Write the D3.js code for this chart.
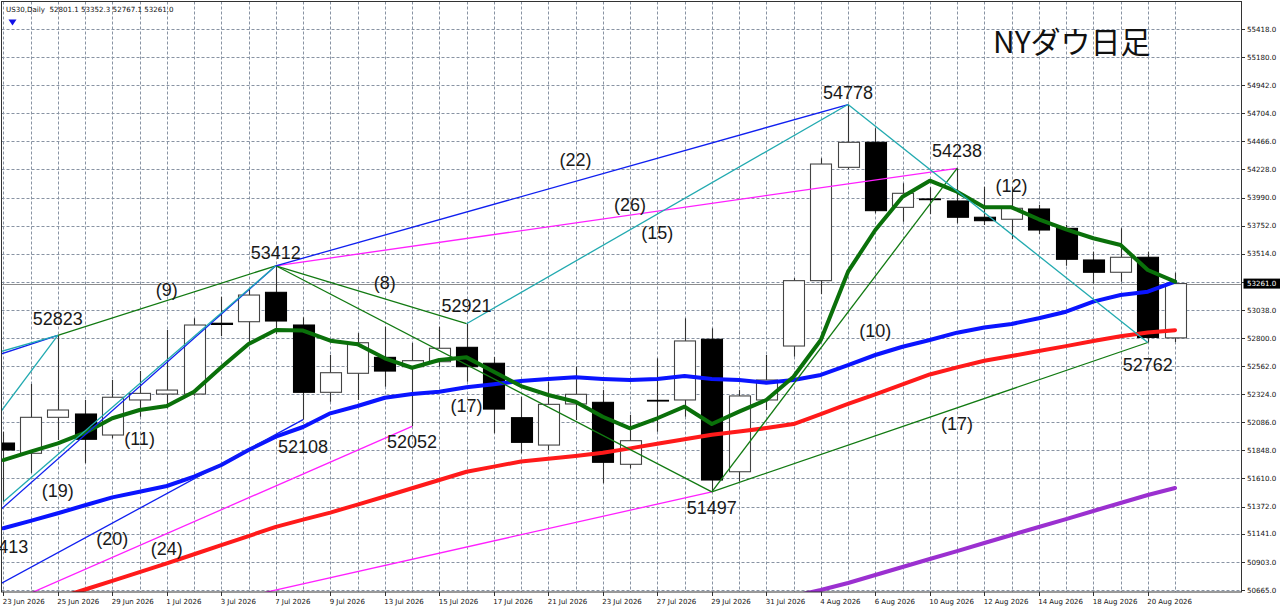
<!DOCTYPE html>
<html><head><meta charset="utf-8">
<script src="https://cdn.jsdelivr.net/npm/d3@7"></script>
<style>
html,body{margin:0;padding:0;background:#fff;overflow:hidden}
svg{display:block}
</style>
</head><body>
<svg id="chart" width="1280" height="611"></svg>
<script>
// ---------------- DATA ----------------
const dates = ["23 Jun 2026","24 Jun 2026","25 Jun 2026","26 Jun 2026","29 Jun 2026","30 Jun 2026",
"1 Jul 2026","2 Jul 2026","3 Jul 2026","6 Jul 2026","7 Jul 2026","8 Jul 2026","9 Jul 2026","10 Jul 2026",
"13 Jul 2026","14 Jul 2026","15 Jul 2026","16 Jul 2026","17 Jul 2026","20 Jul 2026","21 Jul 2026","22 Jul 2026",
"23 Jul 2026","24 Jul 2026","27 Jul 2026","28 Jul 2026","29 Jul 2026","30 Jul 2026","31 Jul 2026",
"3 Aug 2026","4 Aug 2026","5 Aug 2026","6 Aug 2026","7 Aug 2026","10 Aug 2026","11 Aug 2026","12 Aug 2026",
"13 Aug 2026","14 Aug 2026","17 Aug 2026","18 Aug 2026","19 Aug 2026","20 Aug 2026","21 Aug 2026"];

const opens  = [51910,51823,52128,52156,51978,52275,52325,52325,52925,52938,53187,52910,52340,52501,52636,52557,52599,52721,52586,52125,51893,52241,52255,51730,52272,52275,52789,51667,52275,52732,53286,54246,54458,53907,53978,53961,53823,53806,53893,53729,53461,53357,53484,52801.1];
const highs  = [52006,52410,52823,52275,52444,52520,52868,52967,53150,53224,53412,52975,52656,52842,52896,52758,52896,52921,52639,52303,52430,52557,52359,52148,52628,52967,52882,52359,52656,53308,54322,54778,54577,54111,54077,54238,54082,54082,53927,53757,53531,53729,53531,53352.3];
const lows   = [51413,51656,51936,51738,51950,52133,52204,52310,52817,52758,52834,52108,52260,52275,52387,52052,52557,52430,51993,51823,51851,52105,51569,51696,52006,52133,51497,51583,52190,52642,53173,54230,53857,53785,53851,53772,53757,53639,53681,53413,53263,53277,52762,52767.1];
const closes = [51851,52128,52190,51942,52298,52331,52359,52910,52915,53164,52944,52340,52506,52760,52520,52608,52713,52557,52198,51916,52238,52323,51747,51930,52266,52775,51597,52309,52444,53286,54274,54458,53879,54026,53972,53823,53794,53899,53715,53467,53357,53484,52805,53261.0];

const maGreen = [51766,51837,51908,51998,52120,52190,52224,52345,52552,52749,52868,52863,52777,52747,52628,52548,52614,52636,52514,52393,52317,52260,52133,52035,52120,52218,52071,52176,52275,52472,52783,53362,53715,53997,54133,54040,53907,53907,53806,53721,53645,53588,53376,53277];
const maBlue  = [51188,51251,51315,51383,51450,51498,51546,51625,51724,51851,51964,52046,52162,52224,52294,52325,52345,52382,52408,52436,52453,52467,52453,52444,52453,52478,52453,52444,52421,52444,52487,52571,52656,52726,52783,52845,52889,52919,52967,53023,53108,53164,53192,53277];
const maRed   = [50445,50521,50597,50669,50743,50817,50891,50968,51045,51122,51200,51261,51321,51389,51457,51527,51597,51667,51710,51754,51777,51801,51827,51865,51904,51943,51981,52007,52037,52071,52156,52241,52323,52407,52491,52551,52607,52647,52690,52731,52774,52815,52847,52866];
const maPurple = [null,null,null,null,null,null,null,null,null,null,null,null,null,null,null,null,null,null,null,null,null,null,null,null,null,null,null,null,
  50550,50614,50665,50724,50792,50860,50928,50995,51063,51131,51199,51266,51334,51402,51470,51529];

const priceTicks = [55418,55180,54942,54704,54466,54228,53990,53752,53514,53276,53038,52800,52562,52324,52086,51848,51610,51372,51141,50903,50665];
const lastPrice = 53261.0;
const headerText = "US30,Daily  52801.1 53352.3 52767.1 53261.0";
const titleText = "NYダウ日足";

// trend lines: [bar, price] endpoints (off-chart swing points use bars < 0)
const swingLowOff = [-8, 49729];
const greenLines   = [[[2,52823],[10,53412]], [[10,53412],[17,52921]], [[10,53412],[26,51497]], [[26,51497],[35,54238]], [[26,51497],[42,52762]]];
const blueLines    = [[[10,53412],[31,54778]], [swingLowOff,[10,53412]], [swingLowOff,[11,52108]], [[-1,52595],[2,52823]]];
const cyanLines    = [[[17,52921],[31,54778]], [[31,54778],[42,52762]], [[0,51413],[10,53412]], [swingLowOff,[2,52823]], [[-1,52625],[2,52823]]];
const magentaLines = [[[10,53412],[35,54238]], [swingLowOff,[15,52052]], [swingLowOff,[26,51497]]];

// swing price labels: bar, text, price level of text baseline
const swingLabels = [
  {bar:2, text:"52823", at:52910}, {bar:10, text:"53412", at:53469}, {bar:31, text:"54778", at:54825},
  {bar:35, text:"54238", at:54333}, {bar:17, text:"52921", at:53020}, {bar:11, text:"52108", at:51826},
  {bar:15, text:"52052", at:51868}, {bar:26, text:"51497", at:51309}, {bar:42, text:"52762", at:52520},
  {bar:0, text:"51413", at:50978}
];
// bar-count labels
const countLabels = [
  {bar:6, text:"(9)", at:53156}, {bar:14, text:"(8)", at:53215}, {bar:21, text:"(22)", at:54257},
  {bar:23, text:"(26)", at:53876}, {bar:24, text:"(15)", at:53639}, {bar:32, text:"(10)", at:52808},
  {bar:35, text:"(17)", at:52020}, {bar:17, text:"(17)", at:52173}, {bar:37, text:"(12)", at:54037},
  {bar:5, text:"(11)", at:51893}, {bar:2, text:"(19)", at:51453}, {bar:4, text:"(20)", at:51046},
  {bar:6, text:"(24)", at:50961}
];

// ---------------- DRAW ----------------
const svg = d3.select("#chart");
const P = {l:1.5, r:1241.5, t:1.5, b:592};
const x = d3.scaleLinear().domain([0, 43]).range([3.3, 1175.05]);
const y = d3.scaleLinear().domain([50665, 55418]).range([590, 29]);
const step = x(1) - x(0);
const bodyW = step * 0.76;

svg.append("rect").attr("width",1280).attr("height",611).attr("fill","#fff");
svg.append("defs").append("clipPath").attr("id","clip")
  .append("rect").attr("x",P.l).attr("y",P.t).attr("width",P.r-P.l).attr("height",P.b-P.t);

const plot = svg.append("g").attr("clip-path","url(#clip)");

// grid
const gridColor = "#8893a3";
plot.append("g").selectAll("line").data(priceTicks).join("line")
  .attr("x1",P.l).attr("x2",P.r).attr("y1",d=>Math.round(y(d))+0.5).attr("y2",d=>Math.round(y(d))+0.5)
  .attr("stroke",gridColor).attr("stroke-width",1).attr("stroke-dasharray","3,2");
plot.append("g").selectAll("line").data(d3.range(dates.length)).join("line")
  .attr("x1",d=>Math.round(x(d))+0.5).attr("x2",d=>Math.round(x(d))+0.5).attr("y1",P.t).attr("y2",P.b)
  .attr("stroke",gridColor).attr("stroke-width",1).attr("stroke-dasharray","3,2");

// current price line
plot.append("line").attr("x1",P.l).attr("x2",P.r)
  .attr("y1",Math.round(y(lastPrice))+0.5).attr("y2",Math.round(y(lastPrice))+0.5)
  .attr("stroke","#8c8c8c").attr("stroke-width",1);

// candles
const idx = d3.range(dates.length);
const cg = plot.append("g");
cg.selectAll("line.wick").data(idx).join("line").attr("class","wick")
  .attr("x1",i=>Math.round(x(i))+0.5).attr("x2",i=>Math.round(x(i))+0.5)
  .attr("y1",i=>y(highs[i])).attr("y2",i=>y(lows[i]))
  .attr("stroke","#333").attr("stroke-width",1.1);
cg.selectAll("rect.body").data(idx).join("rect").attr("class","body")
  .attr("x",i=>Math.round(x(i)-bodyW/2)+0.5)
  .attr("width",Math.round(bodyW))
  .attr("y",i=>Math.min(y(opens[i]),y(closes[i])))
  .attr("height",i=>Math.max(0.5,Math.abs(y(opens[i])-y(closes[i]))))
  .attr("fill",i=>closes[i]<opens[i]?"#000":"#fff")
  .attr("stroke",i=>closes[i]<opens[i]?"#000":"#444").attr("stroke-width",1.1);

// moving averages
const maLine = d3.line().defined(d=>d!=null).x((d,i)=>x(i)).y(d=>y(d));
[[maPurple,"#9b30d0"],[maRed,"#ff1a1a"],[maBlue,"#0a14ff"],[maGreen,"#0a700a"]].forEach(([arr,col])=>{
  plot.append("path").datum(arr).attr("d",maLine).attr("fill","none")
    .attr("stroke",col).attr("stroke-width",4).attr("stroke-linejoin","round").attr("stroke-linecap","round");
});

// trend lines
const tl = d3.line().x(d=>x(d[0])).y(d=>y(d[1]));
[[magentaLines,"#ff20ff"],[greenLines,"#127a12"],[blueLines,"#1020f0"],[cyanLines,"#22aab0"]].forEach(([arr,col])=>{
  plot.append("g").selectAll("path").data(arr).join("path").attr("d",tl)
    .attr("fill","none").attr("stroke",col).attr("stroke-width",1.3);
});

// border
svg.append("rect").attr("x",P.l).attr("y",P.t).attr("width",P.r-P.l).attr("height",P.b-P.t)
  .attr("fill","none").attr("stroke","#333").attr("stroke-width",1);

// right axis
const axisFont = "'DejaVu Sans', Verdana, sans-serif";
const ly = y(lastPrice);
const rt = svg.append("g");
priceTicks.forEach(v=>{
  const yy = Math.round(y(v))+0.5;
  rt.append("line").attr("x1",P.r).attr("x2",P.r+3.5).attr("y1",yy).attr("y2",yy).attr("stroke","#333");
  if (Math.abs(y(v)-ly) > 8) {
    rt.append("text").attr("x",1247).attr("y",y(v)+2.6).text(v.toFixed(1))
      .attr("font-family",axisFont).attr("font-size",7.1).attr("fill","#111");
  }
});
rt.append("rect").attr("x",1243.5).attr("y",ly-5).attr("width",37).attr("height",10).attr("fill","#000");
rt.append("text").attr("x",1247).attr("y",ly+2.6).text(lastPrice.toFixed(1))
  .attr("font-family",axisFont).attr("font-size",7.1).attr("fill","#fff");

// bottom axis
const bt = svg.append("g");
idx.filter(i=>i%2===0).forEach(i=>{
  const xx = Math.round(x(i))+0.5;
  bt.append("line").attr("x1",xx).attr("x2",xx).attr("y1",P.b).attr("y2",P.b+4).attr("stroke","#333");
  bt.append("text").attr("x",x(i)-0.6).attr("y",603.5).text(dates[i])
    .attr("font-family",axisFont).attr("font-size",7).attr("fill","#111");
});

// header
svg.append("text").attr("x",6).attr("y",12.3).text(headerText).attr("xml:space","preserve")
  .style("white-space","pre")
  .attr("font-family",axisFont).attr("font-size",7.1).attr("fill","#111");
svg.append("path").attr("d","M8.5,19.5 L16.5,19.5 L12.5,25.5 Z").attr("fill","#1010e8");

// title
svg.append("text").attr("x",993).attr("y",53).text(titleText)
  .attr("font-family","'Noto Sans CJK JP','Noto Sans',sans-serif").attr("font-size",30).attr("fill","#111");

// annotations
const labFont = "'Liberation Sans', Arial, sans-serif";
const ag = svg.append("g");
swingLabels.concat(countLabels).forEach(d=>{
  ag.append("text").attr("x",x(d.bar)).attr("y",y(d.at)).attr("text-anchor","middle").text(d.text)
    .attr("font-family",labFont).attr("font-size",18).attr("fill","#1a1a1a");
});
</script>
</body></html>
